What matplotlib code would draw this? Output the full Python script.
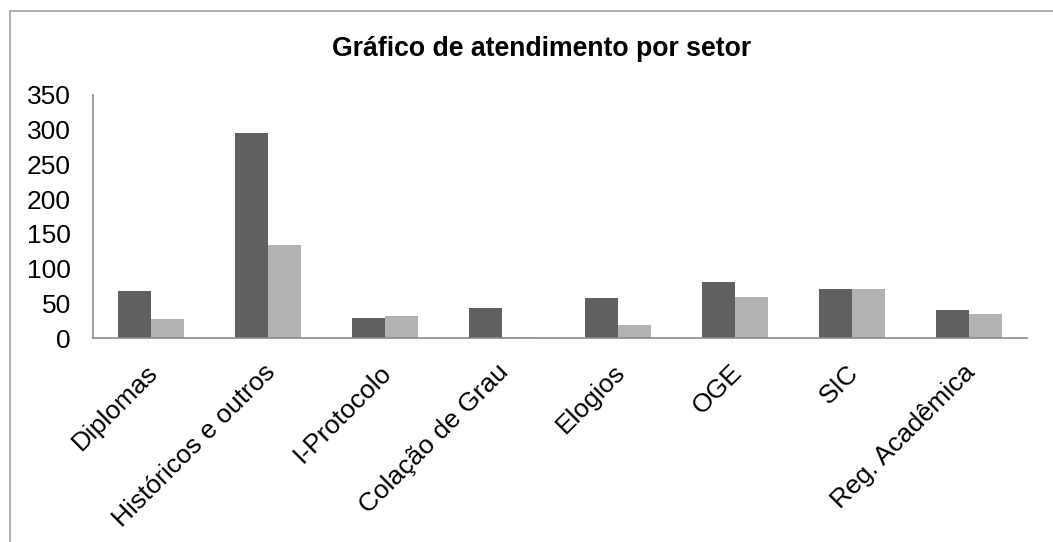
import matplotlib
matplotlib.use("Agg")
import matplotlib.pyplot as plt
import numpy as np
from matplotlib.lines import Line2D

categories = ["Diplomas", "Históricos e outros", "I-Protocolo", "Colação de Grau",
              "Elogios", "OGE", "SIC", "Reg. Acadêmica"]
series_a = [68, 295, 29, 43, 57, 80, 70, 40]
series_b = [27, 134, 31, 2, 19, 59, 71, 34]
yticks = [0, 50, 100, 150, 200, 250, 300, 350]

plt.rcParams['font.family'] = ['Liberation Sans', 'DejaVu Sans']

W, H = 1053, 542
fig = plt.figure(figsize=(W / 100, H / 100), dpi=100)
ax = fig.add_axes([93 / W, 1 - 338 / H, (1027 - 93) / W, (338 - 95) / H])

x = np.arange(len(categories))
bw = 0.283
ax.bar(x - bw / 2, series_a, width=bw, color="#606060", edgecolor="none")
ax.bar(x + bw / 2, series_b, width=bw, color="#b2b2b2", edgecolor="none")

ax.set_xlim(-0.5, len(categories) - 0.5)
ax.set_ylim(0, 350)
ax.set_yticks(yticks)
ax.set_yticklabels([str(v) for v in yticks], fontsize=19)
ax.tick_params(axis='y', length=0, pad=16)
ax.set_xticks(x - 0.045)
ax.set_xticklabels(categories, rotation=45, ha='right', rotation_mode='anchor', fontsize=19)
ax.tick_params(axis='x', length=0, pad=16)

for s in ['top', 'right']:
    ax.spines[s].set_visible(False)
for s in ['left', 'bottom']:
    ax.spines[s].set_color('#8c8c8c')
    ax.spines[s].set_linewidth(1.2)

fig.text(542 / W, 1 - 49 / H, "Gráfico de atendimento por setor", ha='center', va='center',
         fontsize=19.2, fontweight='bold')

# outer chart frame
fig.add_artist(Line2D([10 / W, 10 / W], [0, 1 - 11 / H], transform=fig.transFigure, color='#a8a8a8', lw=1.3))
fig.add_artist(Line2D([10 / W, 1], [1 - 11 / H, 1 - 11 / H], transform=fig.transFigure, color='#a8a8a8', lw=1.3))

fig.savefig("out.png", dpi=100)
